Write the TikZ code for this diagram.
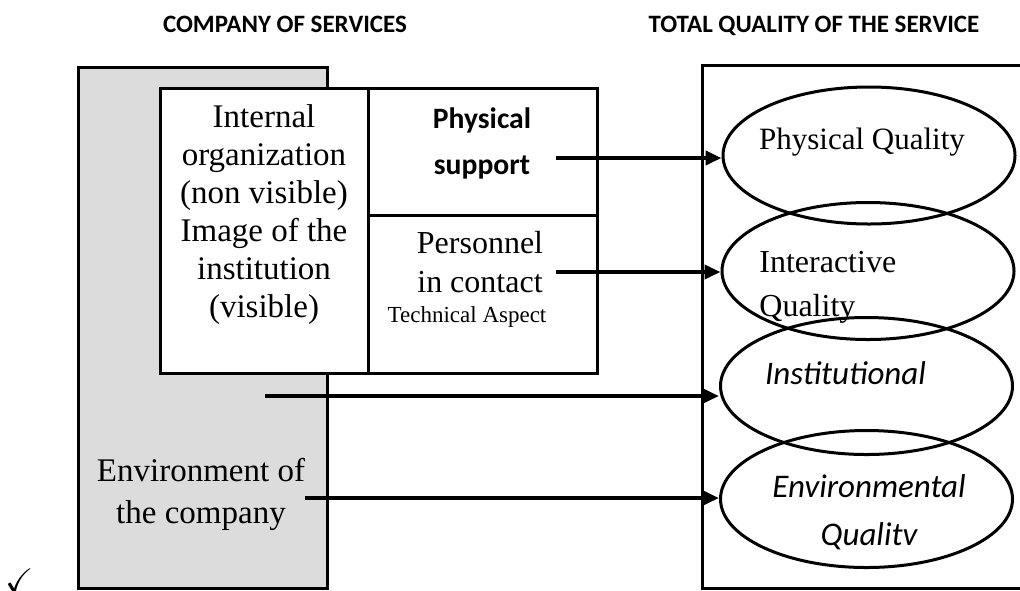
\documentclass[tikz,border=0pt]{standalone}
\usepackage{fontspec}
\usepackage{amssymb}
\setmainfont{Liberation Serif}
\newfontfamily\headfont{Carlito}
\usetikzlibrary{shapes.geometric,arrows.meta,positioning}
\definecolor{envgray}{RGB}{220,220,220}

\begin{document}
\begin{tikzpicture}[x=0.5pt, y=-0.5pt,
    part/.style={rectangle, draw, line width=1.5pt, fill=white, inner sep=0pt},
    quality/.style={ellipse, draw, line width=1.5pt, minimum width=146pt,
                    minimum height=68.5pt, inner sep=0pt},
    link/.style={line width=2pt, -{Triangle[length=8pt,width=7pt]}},
    title/.style={font=\headfont\bfseries\fontsize{12.5}{15}\selectfont, anchor=base},
    body/.style={font=\fontsize{16.5}{19}\selectfont, align=center, inner sep=0pt},
    sans/.style={font=\headfont\itshape\fontsize{16.5}{24}\selectfont, align=center, inner sep=0pt},
]
\useasboundingbox (0,0) rectangle (1020,590);
\clip (0,0) rectangle (1020,590);

% Headings
\node[title] (ttlcomp) at (285,32) {COMPANY OF SERVICES};
\node[title] (ttlqual) at (814,32) {TOTAL QUALITY OF THE SERVICE};

% Company side: environment and inner parts
\node[part, fill=envgray, minimum width=124.5pt, minimum height=260.5pt] (envbox) at (202.5,327.5) {};
\node[part, minimum width=104pt, minimum height=142.5pt] (orgbox) at (264,230.5) {};
\node[part, minimum width=114.5pt, minimum height=63.5pt] (physbox) at (482.5,151.5) {};
\node[part, minimum width=114.5pt, minimum height=79pt] (persbox) at (482.5,294) {};

\node[body] (orgtxt) at (264,215) {Internal\\organization\\(non visible)\\Image of the\\institution\\(visible)};
\node[font=\headfont\bfseries\fontsize{14.8}{23}\selectfont, align=center, inner sep=0pt]
     (phystxt) at (482,143) {Physical\\support};
\node[body, font=\fontsize{16}{19.5}\selectfont] (perstxt) at (480,262.5) {Personnel\\in contact};
\node[font=\fontsize{11.5}{13}\selectfont, inner sep=0pt] (techtxt) at (467,317) {Technical Aspect};
\node[body, font=\fontsize{16.5}{21}\selectfont] (envtxt) at (201,494) {Environment of\\the company};

% Service side: total quality frame and its four components
\node[part, fill=none, minimum width=164pt, minimum height=261.5pt] (qualbox) at (866,326.5) {};
\node[quality] (physq) at (869,155.5) {};
\node[quality] (interq) at (868,271) {};
\node[quality] (instq) at (866.5,386) {};
\node[quality] (envq) at (866.5,499) {};

\node[body, font=\fontsize{15.5}{19}\selectfont] (physqtxt) at (862,142) {Physical Quality};
\node[body, font=\fontsize{16}{22}\selectfont, align=left, anchor=west] (interqtxt) at (759,287) {Interactive\\Quality};
\node[sans] (instqtxt) at (845.5,373) {Institutional};
\node[sans] (envqtxt) at (869,512) {Environmental\\Qualitv};

% Links from the company to the quality components
\coordinate (physout) at (556,158);
\coordinate (persout) at (556,272);
\coordinate (orgout) at (265,396);
\coordinate (envout) at (305,498);
\draw[link] (physout) -- (physout -| physq.west);
\draw[link] (persout) -- (persout -| interq.west);
\draw[link] (orgout) -- (orgout -| instq.west);
\draw[link] (envout) -- (envout -| envq.west);

\node[inner sep=0pt, font=\fontsize{17}{17}\selectfont] (tick) at (20,581) {$\checkmark$};

\end{tikzpicture}
\end{document}
